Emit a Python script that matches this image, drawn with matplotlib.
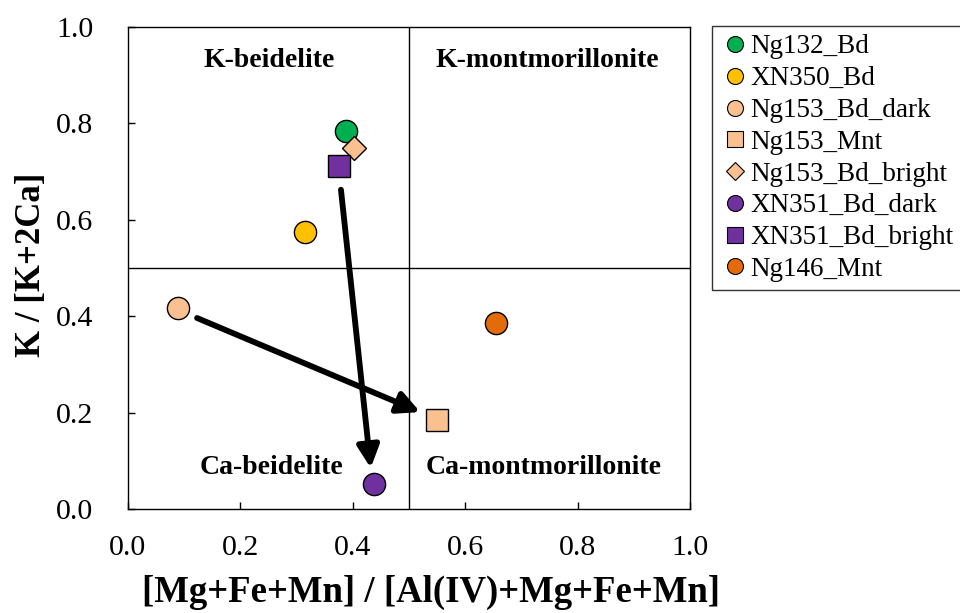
import matplotlib
matplotlib.use("Agg")
import matplotlib.pyplot as plt
from matplotlib.lines import Line2D

plt.rcParams['font.family'] = ['Liberation Serif', 'DejaVu Serif']

names = ["Ng132_Bd", "XN350_Bd", "Ng153_Bd_dark", "Ng153_Mnt",
         "Ng153_Bd_bright", "XN351_Bd_dark", "XN351_Bd_bright", "Ng146_Mnt"]
x_vals = [0.388, 0.315, 0.089, 0.550, 0.402, 0.438, 0.375, 0.655]
y_vals = [0.784, 0.575, 0.417, 0.185, 0.749, 0.052, 0.712, 0.386]
markers = ["o", "o", "o", "s", "D", "o", "s", "o"]
colors = ["#00B050", "#FFC000", "#FAC090", "#FAC090", "#FAC090",
          "#7030A0", "#7030A0", "#E36C09"]
sizes = [16, 16, 16, 16, 12.5, 16, 16, 16]

# arrows: (start_x, start_y, end_x, end_y)
arrow_start_x = [0.123, 0.379]
arrow_start_y = [0.396, 0.662]
arrow_end_x = [0.520, 0.432]
arrow_end_y = [0.201, 0.085]

region_labels = ["K-beidelite", "K-montmorillonite", "Ca-beidelite", "Ca-montmorillonite"]
region_x = [0.252, 0.746, 0.255, 0.739]
region_y = [0.930, 0.930, 0.085, 0.085]

ticks = [0.0, 0.2, 0.4, 0.6, 0.8, 1.0]

fig = plt.figure(figsize=(9.6, 6.13), dpi=100)
ax = fig.add_axes([0.1333, 0.1697, 0.5854, 0.7866])

ax.axvline(0.5, color="black", lw=1.0, zorder=1)
ax.axhline(0.5, color="black", lw=1.0, zorder=1)

for sx, sy, ex, ey in zip(arrow_start_x, arrow_start_y, arrow_end_x, arrow_end_y):
    ax.annotate("", xy=(ex, ey), xytext=(sx, sy),
                arrowprops=dict(arrowstyle="-|>,head_length=0.6,head_width=0.3",
                                lw=4.2, color="black",
                                mutation_scale=22, shrinkA=0, shrinkB=0),
                zorder=2)

handles = []
for n, xv, yv, m, c, s in zip(names, x_vals, y_vals, markers, colors, sizes):
    ax.plot([xv], [yv], marker=m, color=c, markersize=s, markeredgecolor="black",
            markeredgewidth=1.0, linestyle="none", zorder=3)
    handles.append(Line2D([], [], marker=m, color=c, markersize=s * 0.72,
                          markeredgecolor="black", markeredgewidth=0.8,
                          linestyle="none", label=n))

for t, rx, ry in zip(region_labels, region_x, region_y):
    ax.text(rx, ry, t, ha="center", va="center", fontsize=20, fontweight="bold")

ax.set_xlim(0, 1)
ax.set_ylim(0, 1)
ax.set_xticks(ticks)
ax.set_yticks(ticks)
ax.set_xticklabels([f"{t:.1f}" for t in ticks])
ax.set_yticklabels([f"{t:.1f}" for t in ticks])
ax.tick_params(direction="in", length=5, width=1, labelsize=21.5)
ax.tick_params(axis="x", pad=19)
ax.tick_params(axis="y", pad=25)
for sp in ax.spines.values():
    sp.set_linewidth(1.0)

ax.set_xlabel("[Mg+Fe+Mn] / [Al(IV)+Mg+Fe+Mn]", fontsize=26.5, fontweight="bold")
ax.set_ylabel("K / [K+2Ca]", fontsize=25, fontweight="bold")
ax.xaxis.set_label_coords(0.539, -0.174)
ax.xaxis.label.set_va("center")
ax.yaxis.set_label_coords(-0.171, 0.507)
ax.yaxis.label.set_va("center")

leg = fig.legend(handles=handles, loc="upper left", bbox_to_anchor=(0.742, 0.957),
                 fontsize=19.5, frameon=True, fancybox=False, edgecolor="black",
                 handletextpad=0.0, handlelength=1.1, handleheight=0.7,
                 borderpad=0.3, labelspacing=0.25, borderaxespad=0)
leg.get_frame().set_linewidth(1.0)

fig.savefig("out.png", dpi=100)
